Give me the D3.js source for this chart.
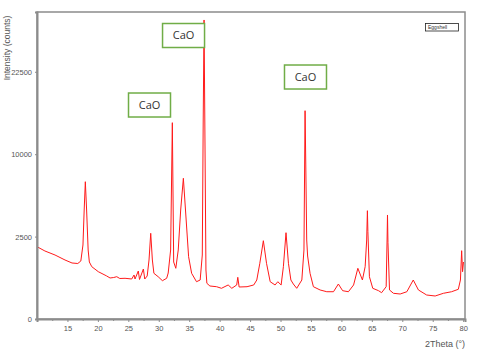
<!DOCTYPE html>
<html>
<head>
<meta charset="utf-8">
<script src="https://cdn.jsdelivr.net/npm/d3@7"></script>
<style>
  body { margin: 0; background: #fff; }
  text { font-family: "Liberation Sans Narrow", "Liberation Sans", Arial, sans-serif; }
</style>
</head>
<body>
<div class="canvas"></div>
<script>
// diffraction pattern (2theta in degrees, intensity in counts)
const twoTheta = [
  10.0, 11.3, 12.96, 14.6, 15.75, 16.7, 17.2, 17.55, 17.75, 17.94,
  18.15, 18.4, 18.6, 19.0, 20.07, 21.45, 22.0, 22.6, 23.1, 23.6,
  24.46, 25.56, 25.94, 26.1, 26.64, 26.84, 27.47, 27.7, 28.1, 28.4,
  28.68, 28.95, 29.2, 29.9, 30.6, 31.3, 31.55, 31.95, 32.23, 32.45,
  32.8, 33.2, 33.6, 34.04, 34.5, 34.9, 35.4, 36.2, 36.8, 37.15,
  37.3, 37.44, 37.6, 37.75, 37.9, 38.4, 39.5, 40.3, 41.4, 42.0,
  42.8, 42.98, 43.2, 44.5, 45.6, 46.1, 46.6, 47.18, 47.7, 48.3,
  49.1, 49.55, 50.1, 50.47, 50.9, 51.3, 51.7, 52.1, 52.66, 53.5,
  53.85, 54.03, 54.15, 54.3, 54.45, 54.85, 55.4, 56.5, 57.6, 58.7,
  59.5, 60.2, 61.15, 62.0, 62.7, 63.45, 63.9, 64.15, 64.27, 64.35,
  64.6, 65.15, 66.1, 66.6, 67.35, 67.5, 67.57, 67.65, 67.9, 68.55,
  69.65, 70.75, 71.8, 72.65, 74.0, 75.4, 76.75, 78.1, 79.2, 79.55,
  79.75, 79.9, 80.05
];
const counts = [
  1925, 1703, 1508, 1282, 1155, 1134, 1239, 2016, 4374, 6940,
  4374, 1753, 1196, 1007, 824, 681, 619, 634, 659, 604,
  610, 589, 713, 589, 848, 575, 920, 589, 681, 1282,
  2704, 1282, 769, 659, 540, 610, 779, 1753, 14190, 1196,
  946, 1753, 4374, 7290, 3609, 1429, 769, 512, 560, 1508,
  14580, 32920, 10516, 884, 469, 401, 384, 347, 426, 347,
  426, 640, 377, 384, 426, 560, 1142, 2257, 1142, 512,
  426, 512, 426, 1007, 2742, 1142, 560, 451, 347, 560,
  1753, 15976, 8733, 2298, 1461, 769, 384, 310, 274, 274,
  451, 295, 274, 426, 946, 560, 1007, 2298, 4318, 2806,
  659, 347, 295, 255, 384, 2298, 3983, 2144, 310, 243,
  230, 274, 560, 310, 212, 195, 243, 274, 325, 560,
  1718, 824, 1196
];

const xTicks = [15, 20, 25, 30, 35, 40, 45, 50, 55, 60, 65, 70, 75, 80];
const xMinorTicks = [12.5, 17.5, 22.5, 27.5, 32.5, 37.5, 42.5, 47.5, 52.5, 57.5, 62.5, 67.5, 72.5, 77.5];
const yTicks = [0, 2500, 10000, 22500];

// phase labels, anchored at the box centre
const phaseLabels = ["CaO", "CaO", "CaO"];
const phaseTheta = [28.48, 34.07, 54.1];
const phaseCounts = [16860, 29590, 21560];

const legendLabel = "Eggshell";

const width = 480, height = 357;
const margin = { top: 12, right: 15, bottom: 38, left: 37 };

const svg = d3.select(".canvas")
  .append("svg")
  .attr("width", width)
  .attr("height", height);

svg.append("rect").attr("width", width).attr("height", height).attr("fill", "#fff");

const x = d3.scaleLinear()
  .domain([10, 80.3])
  .range([margin.left, width - margin.right]);

const y = d3.scaleSqrt()
  .domain([0, 34700])
  .range([height - margin.bottom, margin.top]);

const points = twoTheta.map((t, i) => ({ t: t, c: counts[i] }));

// frame
svg.append("rect")
  .attr("x", margin.left)
  .attr("y", margin.top)
  .attr("width", width - margin.right - margin.left)
  .attr("height", height - margin.bottom - margin.top)
  .attr("fill", "none")
  .attr("stroke", "#8c8c8c")
  .attr("stroke-width", 1.5);

// pattern
const line = d3.line()
  .x(d => x(d.t))
  .y(d => y(d.c));

svg.append("path")
  .datum(points)
  .attr("d", line)
  .attr("fill", "none")
  .attr("stroke", "#ff1a1a")
  .attr("stroke-width", 1)
  .attr("stroke-linejoin", "round");

// x axis
svg.append("g")
  .attr("transform", `translate(0, ${height - margin.bottom})`)
  .call(d3.axisBottom(x).tickValues(xTicks).tickSize(3).tickPadding(4));

svg.append("g")
  .attr("transform", `translate(0, ${height - margin.bottom})`)
  .call(d3.axisBottom(x).tickValues(xMinorTicks).tickSize(2).tickFormat(""))
  .call(g => g.select(".domain").remove());

// y axis
svg.append("g")
  .attr("transform", `translate(${margin.left}, 0)`)
  .call(d3.axisLeft(y).tickValues(yTicks).tickSize(2).tickPadding(3).tickFormat(d3.format("d")));

svg.selectAll(".domain").attr("stroke", "#8c8c8c").attr("stroke-width", 2);
svg.selectAll(".tick line").attr("stroke", "#8c8c8c");
svg.selectAll(".tick text")
  .attr("fill", "#555")
  .style("font-size", "7.5px")
  .style("font-family", "'Liberation Sans Narrow', 'Liberation Sans', sans-serif");

// axis titles
svg.append("text")
  .attr("transform", "translate(7.5, 48) rotate(-90)")
  .attr("text-anchor", "middle")
  .attr("dy", "0.35em")
  .attr("fill", "#555")
  .style("font-size", "8.5px")
  .text("Intensity (counts)");

svg.append("text")
  .attr("x", 465)
  .attr("y", 347)
  .attr("text-anchor", "end")
  .attr("fill", "#555")
  .style("font-size", "9px")
  .text("2Theta (°)");

// legend box
svg.append("rect")
  .attr("x", 425.5)
  .attr("y", 23.5)
  .attr("width", 33)
  .attr("height", 7.5)
  .attr("fill", "#fff")
  .attr("stroke", "#222")
  .attr("stroke-width", 0.8);

svg.append("text")
  .attr("x", 428)
  .attr("y", 29.3)
  .attr("fill", "#333")
  .style("font-size", "5px")
  .text(legendLabel);

// CaO boxes
const labels = svg.append("g")
  .selectAll("g")
  .data(phaseLabels.map((l, i) => ({ l: l, t: phaseTheta[i], c: phaseCounts[i] })))
  .enter()
  .append("g")
  .attr("transform", d => `translate(${x(d.t)}, ${y(d.c)})`);

labels.append("rect")
  .attr("x", -21)
  .attr("y", -12)
  .attr("width", 42)
  .attr("height", 24)
  .attr("fill", "#fff")
  .attr("stroke", "#70ad47")
  .attr("stroke-width", 1.5);

labels.append("text")
  .attr("text-anchor", "middle")
  .attr("dy", "0.35em")
  .attr("fill", "#333")
  .style("font-family", "'Open Sans', 'Liberation Sans', sans-serif")
  .style("font-size", "11px")
  .text(d => d.l);
</script>
</body>
</html>
